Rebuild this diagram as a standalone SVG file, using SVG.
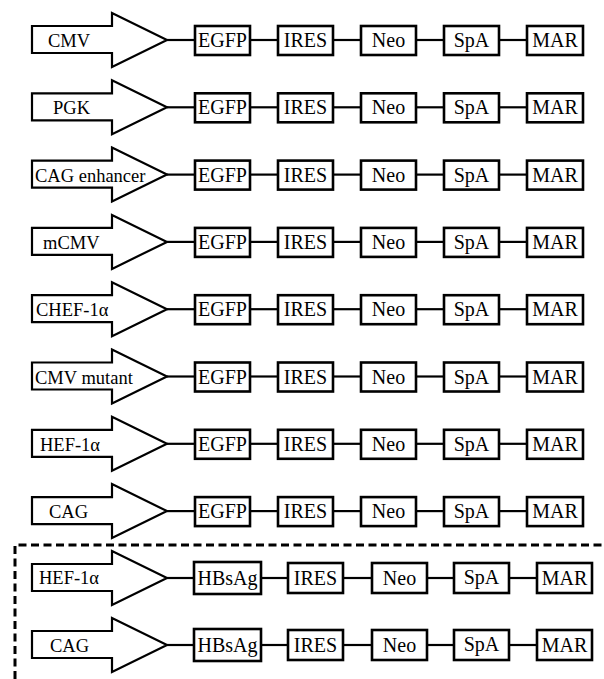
<svg xmlns="http://www.w3.org/2000/svg" xmlns:xlink="http://www.w3.org/1999/xlink" width="604" height="679" viewBox="0 0 604 679">
<style>
.ar{fill:#fff;stroke:#000;stroke-width:2.2;stroke-linejoin:miter}
.bx{fill:#fff;stroke:#000;stroke-width:2.6}
.c line{stroke:#000;stroke-width:2.2}
text{font-family:"Liberation Serif","Times New Roman",serif;font-size:20px;fill:#000}
.p{font-size:18.5px}
.m{text-anchor:middle}
.dash{fill:none;stroke:#000;stroke-width:3;stroke-dasharray:8 4.5}
</style>
<defs>
<path id="arr" d="M32,-14 H112 V-27 L167,0 L112,27 V13 H32 Z"/>
</defs>
<rect width="604" height="679" fill="#fff"/>
<g id="connectors" class="c">
<g transform="translate(0,40)"><line x1="167" y1="0" x2="195" y2="0"/><line x1="250" y1="0" x2="278" y2="0"/><line x1="333" y1="0" x2="361" y2="0"/><line x1="416" y1="0" x2="444" y2="0"/><line x1="499" y1="0" x2="527" y2="0"/></g>
<g transform="translate(0,107.3)"><line x1="167" y1="0" x2="195" y2="0"/><line x1="250" y1="0" x2="278" y2="0"/><line x1="333" y1="0" x2="361" y2="0"/><line x1="416" y1="0" x2="444" y2="0"/><line x1="499" y1="0" x2="527" y2="0"/></g>
<g transform="translate(0,174.6)"><line x1="167" y1="0" x2="195" y2="0"/><line x1="250" y1="0" x2="278" y2="0"/><line x1="333" y1="0" x2="361" y2="0"/><line x1="416" y1="0" x2="444" y2="0"/><line x1="499" y1="0" x2="527" y2="0"/></g>
<g transform="translate(0,241.9)"><line x1="167" y1="0" x2="195" y2="0"/><line x1="250" y1="0" x2="278" y2="0"/><line x1="333" y1="0" x2="361" y2="0"/><line x1="416" y1="0" x2="444" y2="0"/><line x1="499" y1="0" x2="527" y2="0"/></g>
<g transform="translate(0,309.2)"><line x1="167" y1="0" x2="195" y2="0"/><line x1="250" y1="0" x2="278" y2="0"/><line x1="333" y1="0" x2="361" y2="0"/><line x1="416" y1="0" x2="444" y2="0"/><line x1="499" y1="0" x2="527" y2="0"/></g>
<g transform="translate(0,376.5)"><line x1="167" y1="0" x2="195" y2="0"/><line x1="250" y1="0" x2="278" y2="0"/><line x1="333" y1="0" x2="361" y2="0"/><line x1="416" y1="0" x2="444" y2="0"/><line x1="499" y1="0" x2="527" y2="0"/></g>
<g transform="translate(0,443.8)"><line x1="167" y1="0" x2="195" y2="0"/><line x1="250" y1="0" x2="278" y2="0"/><line x1="333" y1="0" x2="361" y2="0"/><line x1="416" y1="0" x2="444" y2="0"/><line x1="499" y1="0" x2="527" y2="0"/></g>
<g transform="translate(0,511.1)"><line x1="167" y1="0" x2="195" y2="0"/><line x1="250" y1="0" x2="278" y2="0"/><line x1="333" y1="0" x2="361" y2="0"/><line x1="416" y1="0" x2="444" y2="0"/><line x1="499" y1="0" x2="527" y2="0"/></g>
<g transform="translate(0,578)"><line x1="167" y1="0" x2="194" y2="0"/><line x1="261" y1="0" x2="288" y2="0"/><line x1="343" y1="0" x2="372" y2="0"/><line x1="427" y1="0" x2="454" y2="0"/><line x1="509" y1="0" x2="537" y2="0"/></g>
<g transform="translate(0,645)"><line x1="167" y1="0" x2="194" y2="0"/><line x1="261" y1="0" x2="288" y2="0"/><line x1="343" y1="0" x2="372" y2="0"/><line x1="427" y1="0" x2="454" y2="0"/><line x1="509" y1="0" x2="537" y2="0"/></g>
</g>
<path class="dash" d="M15,679 V545 H604"/>

<g id="row1" transform="translate(0,40)">
<g id="p1"><use xlink:href="#arr" class="ar"/><text class="p" x="48" y="7">CMV</text></g>
<g id="egfp1"><rect class="bx" x="195" y="-14" width="55" height="29"/><text class="m" x="222.5" y="7">EGFP</text></g>
<g id="ires1"><rect class="bx" x="278" y="-14" width="55" height="29"/><text class="m" x="305.5" y="7">IRES</text></g>
<g id="neo1"><rect class="bx" x="361" y="-14" width="55" height="29"/><text class="m" x="388.5" y="7">Neo</text></g>
<g id="spa1"><rect class="bx" x="444" y="-14" width="55" height="29"/><text class="m" x="471.5" y="7">SpA</text></g>
<g id="mar1"><rect class="bx" x="527" y="-14" width="56" height="29"/><text class="m" x="555" y="7">MAR</text></g>
</g>
<g id="row2" transform="translate(0,107.3)">
<g id="p2"><use xlink:href="#arr" class="ar"/><text class="p" x="53" y="7">PGK</text></g>
<g id="egfp2"><rect class="bx" x="195" y="-14" width="55" height="29"/><text class="m" x="222.5" y="7">EGFP</text></g>
<g id="ires2"><rect class="bx" x="278" y="-14" width="55" height="29"/><text class="m" x="305.5" y="7">IRES</text></g>
<g id="neo2"><rect class="bx" x="361" y="-14" width="55" height="29"/><text class="m" x="388.5" y="7">Neo</text></g>
<g id="spa2"><rect class="bx" x="444" y="-14" width="55" height="29"/><text class="m" x="471.5" y="7">SpA</text></g>
<g id="mar2"><rect class="bx" x="527" y="-14" width="56" height="29"/><text class="m" x="555" y="7">MAR</text></g>
</g>
<g id="row3" transform="translate(0,174.6)">
<g id="p3"><use xlink:href="#arr" class="ar"/><text class="p" x="35" y="7">CAG enhancer</text></g>
<g id="egfp3"><rect class="bx" x="195" y="-14" width="55" height="29"/><text class="m" x="222.5" y="7">EGFP</text></g>
<g id="ires3"><rect class="bx" x="278" y="-14" width="55" height="29"/><text class="m" x="305.5" y="7">IRES</text></g>
<g id="neo3"><rect class="bx" x="361" y="-14" width="55" height="29"/><text class="m" x="388.5" y="7">Neo</text></g>
<g id="spa3"><rect class="bx" x="444" y="-14" width="55" height="29"/><text class="m" x="471.5" y="7">SpA</text></g>
<g id="mar3"><rect class="bx" x="527" y="-14" width="56" height="29"/><text class="m" x="555" y="7">MAR</text></g>
</g>
<g id="row4" transform="translate(0,241.9)">
<g id="p4"><use xlink:href="#arr" class="ar"/><text class="p" x="43" y="7">mCMV</text></g>
<g id="egfp4"><rect class="bx" x="195" y="-14" width="55" height="29"/><text class="m" x="222.5" y="7">EGFP</text></g>
<g id="ires4"><rect class="bx" x="278" y="-14" width="55" height="29"/><text class="m" x="305.5" y="7">IRES</text></g>
<g id="neo4"><rect class="bx" x="361" y="-14" width="55" height="29"/><text class="m" x="388.5" y="7">Neo</text></g>
<g id="spa4"><rect class="bx" x="444" y="-14" width="55" height="29"/><text class="m" x="471.5" y="7">SpA</text></g>
<g id="mar4"><rect class="bx" x="527" y="-14" width="56" height="29"/><text class="m" x="555" y="7">MAR</text></g>
</g>
<g id="row5" transform="translate(0,309.2)">
<g id="p5"><use xlink:href="#arr" class="ar"/><text class="p" x="36" y="7">CHEF-1α</text></g>
<g id="egfp5"><rect class="bx" x="195" y="-14" width="55" height="29"/><text class="m" x="222.5" y="7">EGFP</text></g>
<g id="ires5"><rect class="bx" x="278" y="-14" width="55" height="29"/><text class="m" x="305.5" y="7">IRES</text></g>
<g id="neo5"><rect class="bx" x="361" y="-14" width="55" height="29"/><text class="m" x="388.5" y="7">Neo</text></g>
<g id="spa5"><rect class="bx" x="444" y="-14" width="55" height="29"/><text class="m" x="471.5" y="7">SpA</text></g>
<g id="mar5"><rect class="bx" x="527" y="-14" width="56" height="29"/><text class="m" x="555" y="7">MAR</text></g>
</g>
<g id="row6" transform="translate(0,376.5)">
<g id="p6"><use xlink:href="#arr" class="ar"/><text class="p" x="35" y="7">CMV mutant</text></g>
<g id="egfp6"><rect class="bx" x="195" y="-14" width="55" height="29"/><text class="m" x="222.5" y="7">EGFP</text></g>
<g id="ires6"><rect class="bx" x="278" y="-14" width="55" height="29"/><text class="m" x="305.5" y="7">IRES</text></g>
<g id="neo6"><rect class="bx" x="361" y="-14" width="55" height="29"/><text class="m" x="388.5" y="7">Neo</text></g>
<g id="spa6"><rect class="bx" x="444" y="-14" width="55" height="29"/><text class="m" x="471.5" y="7">SpA</text></g>
<g id="mar6"><rect class="bx" x="527" y="-14" width="56" height="29"/><text class="m" x="555" y="7">MAR</text></g>
</g>
<g id="row7" transform="translate(0,443.8)">
<g id="p7"><use xlink:href="#arr" class="ar"/><text class="p" x="40" y="7">HEF-1α</text></g>
<g id="egfp7"><rect class="bx" x="195" y="-14" width="55" height="29"/><text class="m" x="222.5" y="7">EGFP</text></g>
<g id="ires7"><rect class="bx" x="278" y="-14" width="55" height="29"/><text class="m" x="305.5" y="7">IRES</text></g>
<g id="neo7"><rect class="bx" x="361" y="-14" width="55" height="29"/><text class="m" x="388.5" y="7">Neo</text></g>
<g id="spa7"><rect class="bx" x="444" y="-14" width="55" height="29"/><text class="m" x="471.5" y="7">SpA</text></g>
<g id="mar7"><rect class="bx" x="527" y="-14" width="56" height="29"/><text class="m" x="555" y="7">MAR</text></g>
</g>
<g id="row8" transform="translate(0,511.1)">
<g id="p8"><use xlink:href="#arr" class="ar"/><text class="p" x="49" y="7">CAG</text></g>
<g id="egfp8"><rect class="bx" x="195" y="-14" width="55" height="29"/><text class="m" x="222.5" y="7">EGFP</text></g>
<g id="ires8"><rect class="bx" x="278" y="-14" width="55" height="29"/><text class="m" x="305.5" y="7">IRES</text></g>
<g id="neo8"><rect class="bx" x="361" y="-14" width="55" height="29"/><text class="m" x="388.5" y="7">Neo</text></g>
<g id="spa8"><rect class="bx" x="444" y="-14" width="55" height="29"/><text class="m" x="471.5" y="7">SpA</text></g>
<g id="mar8"><rect class="bx" x="527" y="-14" width="56" height="29"/><text class="m" x="555" y="7">MAR</text></g>
</g>
<g id="row9" transform="translate(0,578)">
<g id="p9"><use xlink:href="#arr" class="ar"/><text class="p" x="39" y="6">HEF-1α</text></g>
<g id="hbsag9"><rect class="bx" x="194" y="-16" width="67" height="32"/><text class="m" x="227.5" y="7">HBsAg</text></g>
<g id="ires9"><rect class="bx" x="288" y="-15" width="55" height="30"/><text class="m" x="315.5" y="7">IRES</text></g>
<g id="neo9"><rect class="bx" x="372" y="-15" width="55" height="30"/><text class="m" x="399.5" y="7">Neo</text></g>
<g id="spa9"><rect class="bx" x="454" y="-15" width="55" height="30"/><text class="m" x="481.5" y="6">SpA</text></g>
<g id="mar9"><rect class="bx" x="537" y="-15" width="55" height="30"/><text class="m" x="564.5" y="7">MAR</text></g>
</g>
<g id="row10" transform="translate(0,645)">
<g id="p10"><use xlink:href="#arr" class="ar"/><text class="p" x="50" y="7">CAG</text></g>
<g id="hbsag10"><rect class="bx" x="194" y="-16" width="67" height="32"/><text class="m" x="227.5" y="7">HBsAg</text></g>
<g id="ires10"><rect class="bx" x="288" y="-15" width="55" height="30"/><text class="m" x="315.5" y="7">IRES</text></g>
<g id="neo10"><rect class="bx" x="372" y="-15" width="55" height="30"/><text class="m" x="399.5" y="7">Neo</text></g>
<g id="spa10"><rect class="bx" x="454" y="-15" width="55" height="30"/><text class="m" x="481.5" y="6">SpA</text></g>
<g id="mar10"><rect class="bx" x="537" y="-15" width="55" height="30"/><text class="m" x="564.5" y="7">MAR</text></g>
</g>
</svg>
